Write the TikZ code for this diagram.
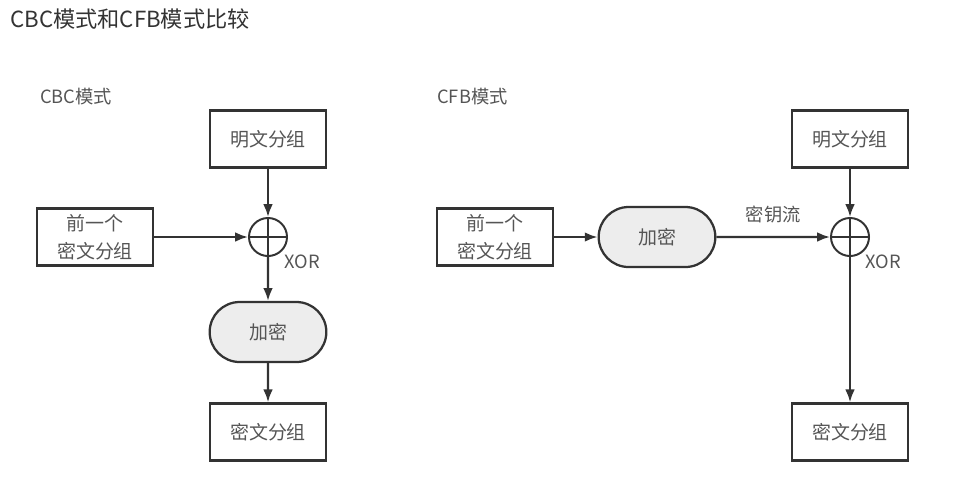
\documentclass[tikz,border=0pt]{standalone}
\usepackage{fontspec}
\setmainfont{Noto Sans CJK SC}
\usetikzlibrary{arrows.meta,shapes.misc}
\definecolor{linegray}{HTML}{333333}
\definecolor{textgray}{HTML}{555555}
\definecolor{fillgray}{HTML}{EDEDED}
\tikzset{
  block/.style={draw=linegray, line width=1.6pt, minimum width=2.9cm, minimum height=1.43cm,
    align=center, text=textgray, font=\fontsize{13.5}{20}\selectfont},
  encblock/.style={block, rounded rectangle, fill=fillgray, minimum width=3.15cm, minimum height=1.5cm},
  xorsym/.style={circle, draw=linegray, line width=1.4pt, minimum size=0.95cm, inner sep=0pt,
    path picture={\draw[linegray, line width=1.4pt]
      (path picture bounding box.north) -- (path picture bounding box.south)
      (path picture bounding box.west) -- (path picture bounding box.east);}},
  flow/.style={draw=linegray, line width=1.5pt, -{Latex[length=3.2mm,width=2.4mm]}},
  lbl/.style={text=textgray, font=\fontsize{13}{16}\selectfont, inner sep=0pt}
}
\begin{document}
\begin{tikzpicture}[x=0.025cm, y=-0.025cm]
\useasboundingbox (0,0) rectangle (970,476);

% Title and headings
\node[anchor=west, inner sep=0pt, text=linegray, font=\fontsize{15.8}{18}\selectfont] (title) at (10,19) {CBC模式和CFB模式比较};
\node[lbl, anchor=west] (cbchead) at (40,97) {CBC模式};
\node[lbl, anchor=west] (cfbhead) at (437,97) {CFB模式};

% CBC mode
\node[block] (cbcplain) at (268,139) {明文分组};
\node[block] (cbcprev) at (95,237) {前一个\\密文分组};
\node[xorsym] (cbcxor) at (268,237) {};
\node[lbl] (cbcxorlbl) at (302,262) {XOR};
\node[encblock] (cbcenc) at (268,332) {加密};
\node[block] (cbccipher) at (268,432) {密文分组};
\draw[flow] (cbcplain) -- (cbcxor);
\draw[flow] (cbcprev) -- (cbcxor);
\draw[flow] (cbcxor) -- (cbcenc);
\draw[flow] (cbcenc) -- (cbccipher);

% CFB mode
\node[block] (cfbprev) at (495,237) {前一个\\密文分组};
\node[encblock] (cfbenc) at (657,237) {加密};
\node[xorsym] (cfbxor) at (850,237) {};
\node[lbl] (cfbxorlbl) at (883,262) {XOR};
\node[block] (cfbplain) at (850,139) {明文分组};
\node[block] (cfbcipher) at (850,432) {密文分组};
\draw[flow] (cfbprev) -- (cfbenc);
\draw[flow] (cfbenc) -- node[lbl, above=9pt] (keystream) {密钥流} (cfbxor);
\draw[flow] (cfbplain) -- (cfbxor);
\draw[flow] (cfbxor) -- (cfbcipher);
\end{tikzpicture}
\end{document}
